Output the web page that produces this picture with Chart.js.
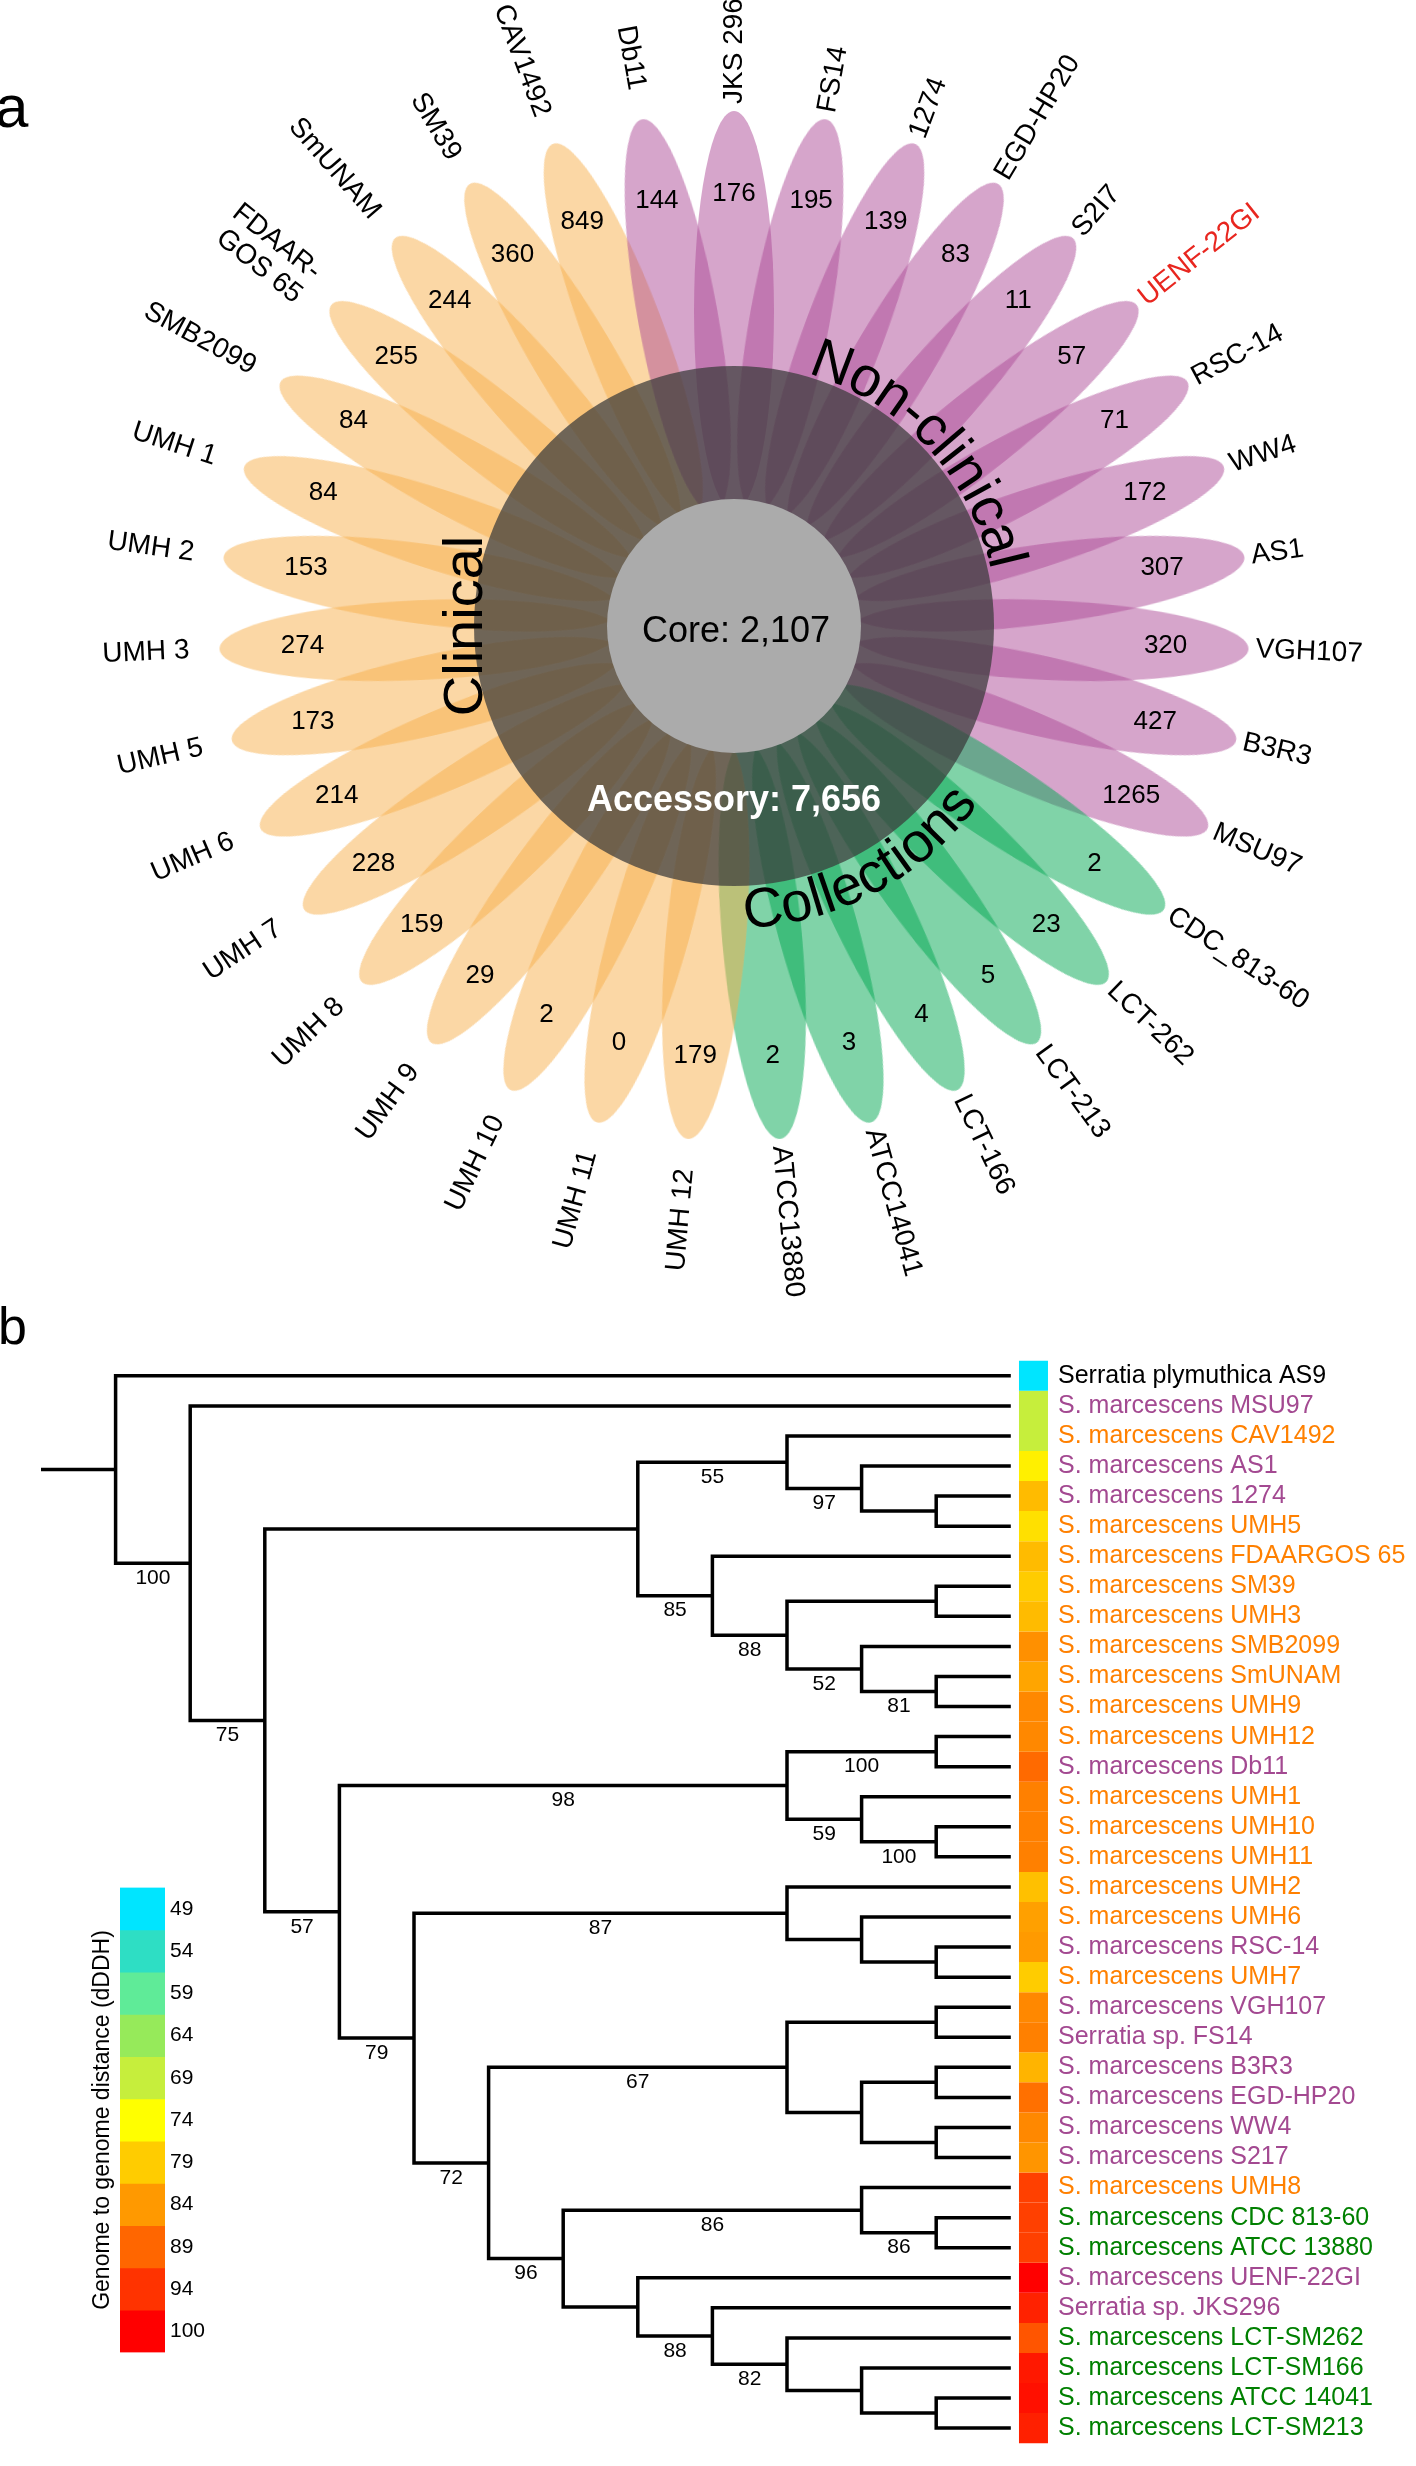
<!DOCTYPE html>
<html><head><meta charset="utf-8">
<script src="https://cdn.jsdelivr.net/npm/chart.js@4.4.1/dist/chart.umd.min.js"></script>
<style>
html,body{margin:0;padding:0;background:#fff;width:1416px;height:2466px;overflow:hidden;position:relative;}
canvas{position:absolute;}
</style></head><body>
<canvas id="flower" width="1416" height="1300" style="left:0;top:0;width:1416px;height:1300px"></canvas>
<canvas id="tree" width="1416" height="1166" style="left:0;top:1300px;width:1416px;height:1166px"></canvas>
<canvas id="bar" width="150" height="500" style="left:85px;top:1870px;width:150px;height:500px"></canvas>
<script>
// ---------------- DATA ----------------
// Panel a: flower plot (petals clockwise from the top)
const petalNames = ['JKS 296','FS14','1274','EGD-HP20','S2I7','UENF-22GI','RSC-14','WW4','AS1','VGH107','B3R3','MSU97',
  'CDC_813-60','LCT-262','LCT-213','LCT-166','ATCC14041','ATCC13880',
  'UMH 12','UMH 11','UMH 10','UMH 9','UMH 8','UMH 7','UMH 6','UMH 5','UMH 3','UMH 2','UMH 1','SMB2099','FDAAR-\nGOS 65','SmUNAM','SM39','CAV1492',
  'Db11'];
const petalValues = [176,195,139,83,11,57,71,172,307,320,427,1265,
  2,23,5,4,3,2,
  179,0,2,29,159,228,214,173,274,153,84,84,255,244,360,849,
  144];
const petalGroups = ['Non-clinical','Non-clinical','Non-clinical','Non-clinical','Non-clinical','Non-clinical','Non-clinical','Non-clinical','Non-clinical','Non-clinical','Non-clinical','Non-clinical',
  'Collections','Collections','Collections','Collections','Collections','Collections',
  'Clinical','Clinical','Clinical','Clinical','Clinical','Clinical','Clinical','Clinical','Clinical','Clinical','Clinical','Clinical','Clinical','Clinical','Clinical','Clinical',
  'Non-clinical'];
const highlightedStrain = 'UENF-22GI';
const coreGenes = 2107;
const accessoryGenes = 7656;

// Panel b: tree leaves (top to bottom)
const leafNames = ['Serratia plymuthica AS9','S. marcescens MSU97','S. marcescens CAV1492','S. marcescens AS1','S. marcescens 1274',
  'S. marcescens UMH5','S. marcescens FDAARGOS 65','S. marcescens SM39','S. marcescens UMH3','S. marcescens SMB2099',
  'S. marcescens SmUNAM','S. marcescens UMH9','S. marcescens UMH12','S. marcescens Db11','S. marcescens UMH1',
  'S. marcescens UMH10','S. marcescens UMH11','S. marcescens UMH2','S. marcescens UMH6','S. marcescens RSC-14',
  'S. marcescens UMH7','S. marcescens VGH107','Serratia sp. FS14','S. marcescens B3R3','S. marcescens EGD-HP20',
  'S. marcescens WW4','S. marcescens S217','S. marcescens UMH8','S. marcescens CDC 813-60','S. marcescens ATCC 13880',
  'S. marcescens UENF-22GI','Serratia sp. JKS296','S. marcescens LCT-SM262','S. marcescens LCT-SM166','S. marcescens ATCC 14041',
  'S. marcescens LCT-SM213'];
const leafGroups = ['Outgroup','Non-clinical','Clinical','Non-clinical','Non-clinical',
  'Clinical','Clinical','Clinical','Clinical','Clinical',
  'Clinical','Clinical','Clinical','Non-clinical','Clinical',
  'Clinical','Clinical','Clinical','Clinical','Non-clinical',
  'Clinical','Non-clinical','Non-clinical','Non-clinical','Non-clinical',
  'Non-clinical','Non-clinical','Clinical','Collections','Collections',
  'Non-clinical','Non-clinical','Collections','Collections','Collections',
  'Collections'];
const leafDDDH = [49,69,69,75.5,80.7,77,80.7,79,80.7,84.9,82.8,85.7,85.7,88.6,86.5,86.5,86.5,80.2,83.3,83.9,
  79,85.7,86.5,81.4,88,85.7,84.4,92.7,92.7,92.7,100,96,90.7,97.2,98.1,96.2];

// internal nodes: id, depth level (cladogram), bootstrap support, children (leaf index or node id)
const nodeIds =      ['root','n1','n2','A','B','C','D','E','F','G','H','I','J','K','L','M','N','O','P','R','S','Q','T','V','W','X','Y','U','Z','AB','AA','AC','AD','AE','AF'];
const nodeDepths =   [0,1,2,7,9,10,11,8,9,11,10,11,3,9,11,10,11,4,9,10,11,5,9,11,10,11,11,6,10,11,7,8,9,10,11];
const nodeSupport =  [null,100,75,null,55,97,null,85,88,null,52,81,57,98,100,59,100,79,87,null,null,72,67,null,null,null,null,96,86,86,null,88,82,null,null];
const nodeChildren = [[0,'n1'],[1,'n2'],['A','J'],['B','E'],[2,'C'],[3,'D'],[4,5],[6,'F'],['G','H'],[7,8],[9,'I'],[10,11],
  ['K','O'],['L','M'],[12,13],[14,'N'],[15,16],['P','Q'],[17,'R'],[18,'S'],[19,20],['T','U'],['V','W'],[21,22],['X','Y'],
  [23,24],[25,26],['Z','AA'],[27,'AB'],[28,29],[30,'AC'],[31,'AD'],[32,'AE'],[33,'AF'],[34,35]];
const leafDepth = 12;

// colour key
const legendValues = [49,54,59,64,69,74,79,84,89,94,100];
const legendColors = ['#00E5FF','#2EDEC4','#5FEB98','#96EA5A','#C6EE3C','#FFFF00','#FFCC00','#FF9900','#FF6600','#FF3300','#FF0000'];
const legendTitle = 'Genome to genome distance (dDDH)';

// ---------------- STYLE ----------------
const FONT = "'Liberation Sans', Arial, Helvetica, sans-serif";
Chart.defaults.font.family = FONT;
Chart.defaults.color = '#000';
const petalFill = {'Clinical':'rgba(248,176,76,0.5)','Non-clinical':'rgba(173,75,151,0.5)','Collections':'rgba(1,167,81,0.5)'};
const groupText = {'Outgroup':'#000000','Clinical':'#FF8000','Non-clinical':'#A34991','Collections':'#008000'};

// ---------------- PANEL A ----------------
const PETAL_A = 200, PETAL_B = 40, PETAL_R = 315;
const RING_R = 260, CORE_R = 127;
function petalImage(color){
  const c = document.createElement('canvas');
  c.width = 2*PETAL_A; c.height = 2*PETAL_B;
  const g = c.getContext('2d');
  g.fillStyle = color; g.beginPath();
  g.ellipse(PETAL_A, PETAL_B, PETAL_A, PETAL_B, 0, 0, 2*Math.PI); g.fill();
  return c;
}
const petalImgs = {};
Object.keys(petalFill).forEach(k => petalImgs[k] = petalImage(petalFill[k]));
const STEP = 360/petalNames.length;
const petalAngle = petalNames.map((_, i) => i*STEP);
const rad = d => d*Math.PI/180;

const flowerText = {
  id: 'flowerText',
  afterDatasetsDraw(chart){
    const ctx = chart.ctx, xs = chart.scales.x, ys = chart.scales.y;
    const P = (r, phi) => [xs.getPixelForValue(r*Math.sin(rad(phi))), ys.getPixelForValue(r*Math.cos(rad(phi)))];
    const [cx, cy] = P(0, 0);
    ctx.save();
    ctx.fillStyle = '#000';
    // numbers
    ctx.font = `26px ${FONT}`; ctx.textAlign = 'center'; ctx.textBaseline = 'middle';
    petalValues.forEach((v, i) => { const [x, y] = P(432, petalAngle[i]); ctx.fillText(String(v), x, y); });
    // names
    ctx.font = `28px ${FONT}`;
    petalNames.forEach((n, i) => {
      const phi = petalAngle[i];
      const right = phi < 180;
      const [x, y] = P(right ? 522 : 545, phi);
      ctx.save();
      ctx.translate(x, y);
      ctx.rotate(rad(right ? phi - 90 : phi - 270));
      ctx.textAlign = right ? 'left' : 'right';
      ctx.fillStyle = n === highlightedStrain ? '#E8261F' : '#000';
      const lines = n.split('\n');
      lines.forEach((ln, k) => ctx.fillText(ln, 0, (k - (lines.length-1)/2)*30));
      ctx.restore();
    });
    // group labels
    ctx.font = `56px ${FONT}`; ctx.fillStyle = '#000';
    ctx.save(); ctx.translate(cx - 252, cy); ctx.rotate(-Math.PI/2);
    ctx.textAlign = 'center'; ctx.textBaseline = 'alphabetic'; ctx.fillText('Clinical', 0, 0); ctx.restore();
    arcText(ctx, 'Non-clinical', cx, cy, -43, 263, 270, 1);
    arcText(ctx, 'Collections', cx, cy, 62, 302, 302, -1);
    // centre labels
    ctx.textAlign = 'center'; ctx.textBaseline = 'alphabetic';
    ctx.font = `36px ${FONT}`; ctx.fillStyle = '#000';
    ctx.fillText('Core: ' + coreGenes.toLocaleString('en-US'), cx + 2, cy + 16);
    ctx.font = `bold 36px ${FONT}`; ctx.fillStyle = '#fff';
    ctx.fillText('Accessory: ' + accessoryGenes.toLocaleString('en-US'), cx, cy + 185);
    // panel letter
    ctx.font = `60px ${FONT}`; ctx.fillStyle = '#000'; ctx.textAlign = 'left';
    ctx.fillText('a', -5, 127);
    ctx.restore();
  }
};
function arcText(ctx, text, cx, cy, centerDeg, rBase, rAdv, dir){
  ctx.save();
  ctx.textAlign = 'center'; ctx.textBaseline = 'alphabetic';
  const chars = [...text];
  const widths = chars.map(ch => ctx.measureText(ch).width);
  const total = widths.reduce((a, b) => a + b, 0);
  let a = rad(centerDeg) - dir*(total/2)/rAdv;
  chars.forEach((ch, k) => {
    const th = a + dir*(widths[k]/2)/rAdv;
    ctx.save();
    ctx.translate(cx + rBase*Math.cos(th), cy + rBase*Math.sin(th));
    ctx.rotate(th + dir*Math.PI/2);
    ctx.fillText(ch, 0, 0);
    ctx.restore();
    a += dir*widths[k]/rAdv;
  });
  ctx.restore();
}

new Chart(document.getElementById('flower'), {
  type: 'scatter',
  data: { datasets: [
    { data: [{x:0, y:0}], pointRadius: CORE_R, pointBackgroundColor: '#ABABAB', pointBorderWidth: 0, order: 0, clip: false },
    { data: [{x:0, y:0}], pointRadius: RING_R, pointBackgroundColor: 'rgba(58,58,58,0.72)', pointBorderWidth: 0, order: 1, clip: false },
    { data: petalAngle.map(phi => ({x: PETAL_R*Math.sin(rad(phi)), y: PETAL_R*Math.cos(rad(phi))})),
      pointStyle: petalGroups.map(g => petalImgs[g]),
      pointRotation: petalAngle.map(phi => phi - 90),
      pointRadius: 1, pointBorderWidth: 0, order: 2, clip: false }
  ]},
  options: {
    responsive: false, animation: false, events: [],
    layout: { padding: 0, autoPadding: false },
    plugins: { legend: {display: false}, tooltip: {enabled: false} },
    scales: {
      x: { type: 'linear', min: -734, max: 682, display: false },
      y: { type: 'linear', min: -674, max: 626, display: false }
    }
  },
  plugins: [flowerText]
});

// ---------------- PANEL B ----------------
function hexToRgb(h){ return [1,3,5].map(i => parseInt(h.slice(i, i+2), 16)); }
function dddhColor(v){
  for (let i = 0; i < legendValues.length - 1; i++) {
    if (v <= legendValues[i+1]) {
      const t = Math.max(0, (v - legendValues[i])/(legendValues[i+1] - legendValues[i]));
      const a = hexToRgb(legendColors[i]), b = hexToRgb(legendColors[i+1]);
      const c = a.map((av, k) => Math.round(av + (b[k] - av)*t));
      return `rgb(${c[0]},${c[1]},${c[2]})`;
    }
  }
  return legendColors[legendColors.length - 1];
}
const nodeIndex = {}; nodeIds.forEach((id, i) => nodeIndex[id] = i);
const nodeY = {};
function yOf(c){ if (typeof c === 'number') return c; if (nodeY[c] !== undefined) return nodeY[c];
  const ch = nodeChildren[nodeIndex[c]]; nodeY[c] = (yOf(ch[0]) + yOf(ch[ch.length-1]))/2; return nodeY[c]; }
function depthOf(c){ return typeof c === 'number' ? leafDepth : nodeDepths[nodeIndex[c]]; }
const parentDepth = {};
nodeIds.forEach((id, i) => nodeChildren[i].forEach(c => { if (typeof c === 'string') parentDepth[c] = nodeDepths[i]; }));

const lineStyle = { showLine: true, pointRadius: 0, borderColor: '#000', borderWidth: 3.5, borderJoinStyle: 'miter', borderCapStyle: 'butt', fill: false, tension: 0 };
const treeDatasets = [];
nodeIds.forEach((id, i) => {
  const ch = nodeChildren[i], d = nodeDepths[i];
  const c1 = ch[0], c2 = ch[ch.length-1];
  treeDatasets.push(Object.assign({ data: [
    {x: depthOf(c1), y: yOf(c1)}, {x: d, y: yOf(c1)}, {x: d, y: yOf(c2)}, {x: depthOf(c2), y: yOf(c2)} ] }, lineStyle));
});
treeDatasets.push(Object.assign({ data: [{x: -1, y: yOf('root')}, {x: 0, y: yOf('root')}] }, lineStyle));
// colour strip cells
const STRIP_X = leafDepth + 0.304;
leafDDDH.forEach((v, i) => {
  treeDatasets.push({ showLine: true, pointRadius: 0, borderWidth: 29, borderCapStyle: 'butt', borderColor: dddhColor(v),
    data: [{x: STRIP_X, y: i - 0.5}, {x: STRIP_X, y: i + 0.5}], clip: false });
});

const PX_D = 74.6, X0 = 115.6, AREA_W = 1050;
const X_MIN = -X0/PX_D, X_MAX = X_MIN + AREA_W/PX_D;
const ROW = 31.3, Y0 = 55;
const Y_MIN = -Y0/ROW, Y_MAX = Y_MIN + 1166/ROW;

const treeText = {
  id: 'treeText',
  afterDatasetsDraw(chart){
    const ctx = chart.ctx, xs = chart.scales.x, ys = chart.scales.y;
    ctx.save();
    ctx.font = `21px ${FONT}`; ctx.fillStyle = '#000'; ctx.textAlign = 'center'; ctx.textBaseline = 'middle';
    nodeIds.forEach((id, i) => {
      if (nodeSupport[i] === null) return;
      const x = (xs.getPixelForValue(parentDepth[id]) + xs.getPixelForValue(nodeDepths[i]))/2;
      const y = ys.getPixelForValue(yOf(id)) + 15;
      ctx.fillText(String(nodeSupport[i]), x, y);
    });
    ctx.font = `52px ${FONT}`; ctx.textAlign = 'left'; ctx.textBaseline = 'alphabetic';
    ctx.fillText('b', -2, 44);
    ctx.restore();
  }
};

new Chart(document.getElementById('tree'), {
  type: 'scatter',
  data: { datasets: treeDatasets },
  options: {
    responsive: false, animation: false, events: [],
    layout: { padding: 0, autoPadding: false },
    plugins: { legend: {display: false}, tooltip: {enabled: false} },
    scales: {
      x: { type: 'linear', min: X_MIN, max: X_MAX, display: false },
      y: { type: 'linear', position: 'right', reverse: true, min: Y_MIN, max: Y_MAX,
        grid: { display: false, drawTicks: false }, border: { display: false },
        afterBuildTicks: s => { s.ticks = leafNames.map((_, i) => ({value: i})); },
        afterFit: s => { s.width = 1416 - AREA_W; },
        ticks: { autoSkip: false, padding: 8, font: { family: FONT, size: 25 },
          color: c => groupText[leafGroups[c.index]],
          callback: (v, i) => leafNames[i] } }
    }
  },
  plugins: [treeText]
});

// ---------------- COLOUR KEY ----------------
new Chart(document.getElementById('bar'), {
  type: 'bar',
  data: { labels: [''], datasets: legendValues.map((v, i) => ({ label: String(v), data: [1], backgroundColor: legendColors[i],
    borderWidth: 0, barPercentage: 1, categoryPercentage: 1 })) },
  options: {
    responsive: false, animation: false, events: [],
    layout: { padding: { top: 16, bottom: 15, left: 0, right: 0 }, autoPadding: false },
    plugins: { legend: {display: false}, tooltip: {enabled: false} },
    scales: {
      x: { stacked: true, display: false },
      y: { type: 'linear', stacked: true, position: 'left', reverse: true, min: 0, max: legendValues.length,
        grid: { display: false, drawTicks: false }, border: { display: false }, ticks: { display: false },
        title: { display: true, text: legendTitle, color: '#000', font: { family: FONT, size: 23 }, padding: { top: 4, bottom: 0 } },
        afterFit: s => { s.width = 35; } },
      y2: { type: 'linear', position: 'right', reverse: true, min: 0, max: legendValues.length,
        grid: { display: false, drawTicks: false }, border: { display: false },
        afterBuildTicks: s => { s.ticks = legendValues.map((_, i) => ({value: i + 0.5})); },
        afterFit: s => { s.width = 70; },
        ticks: { autoSkip: false, padding: 5, color: '#000', font: { family: FONT, size: 21 }, callback: (v, i) => String(legendValues[i]) } }
    }
  }
});
</script>
</body></html>
